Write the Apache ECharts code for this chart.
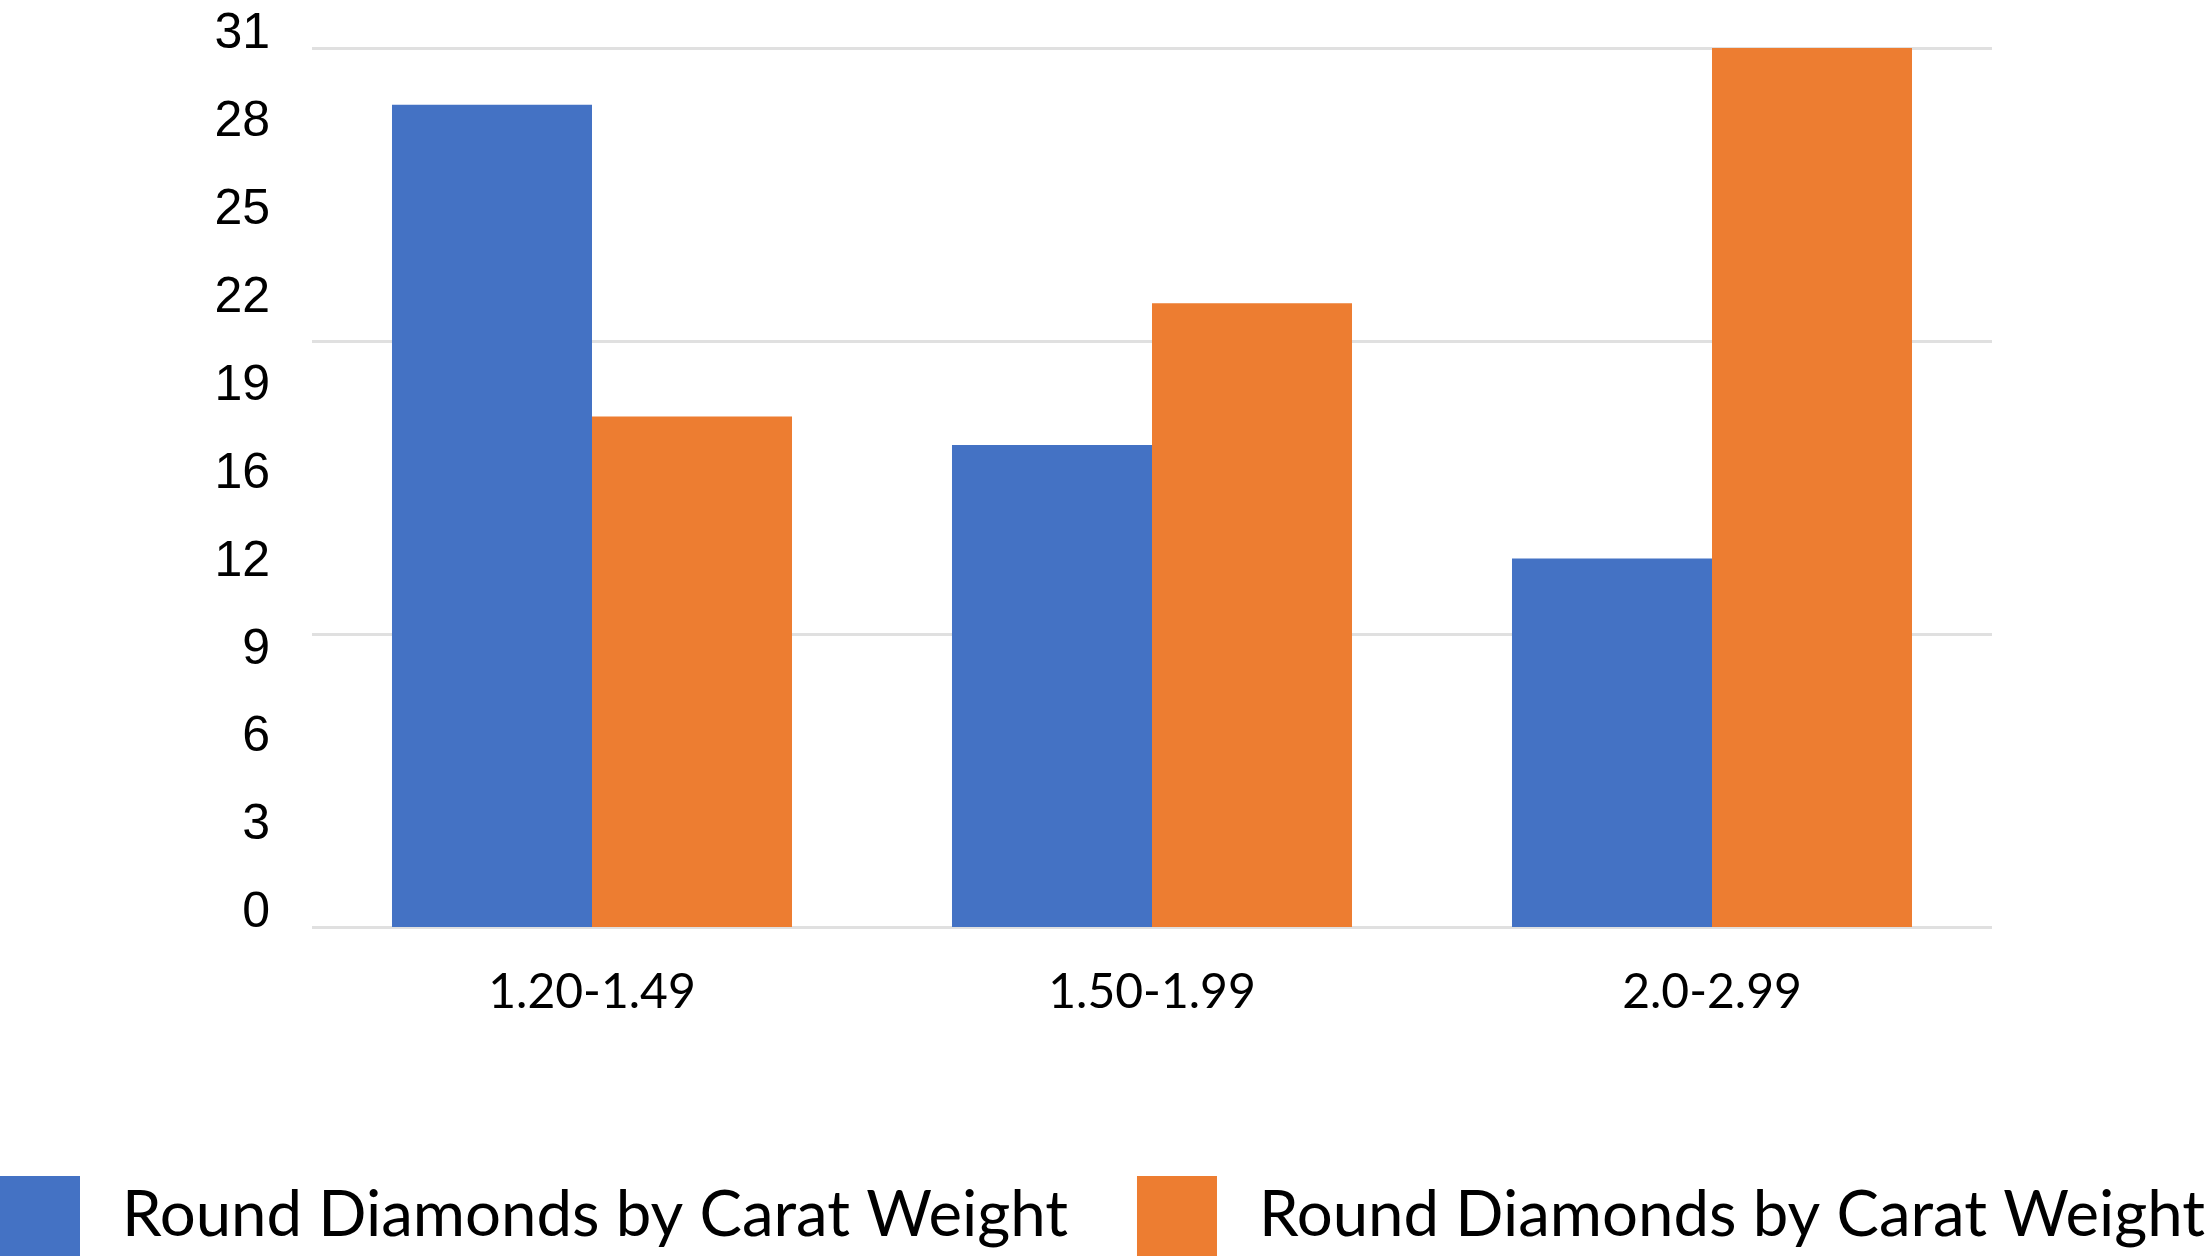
<!DOCTYPE html>
<html>
<head>
<meta charset="utf-8">
<style>
html,body{margin:0;padding:0;background:#fff;}
#chart{width:2208px;height:1256px;}
</style>
<script src="https://cdn.jsdelivr.net/npm/echarts@6/dist/echarts.min.js"></script>
</head>
<body>
<div id="chart"></div>
<script>
const categories = ['1.20-1.49', '1.50-1.99', '2.0-2.99'];
const seriesNames = ['Round Diamonds by Carat Weight', 'Round Diamonds by Carat Weight '];
const blueValues = [29, 17, 13];
const orangeValues = [18, 22, 31];
const yMax = 31;
const labelStep = 3.1;
const gridStep = 31 / 3;

const chart = echarts.init(document.getElementById('chart'), null, {renderer: 'canvas'});
chart.setOption({
  backgroundColor: '#ffffff',
  animation: false,
  grid: {left: 312, right: 216, top: 48, bottom: 329, containLabel: false},
  legend: {
    left: 0, top: 1176, padding: 0, width: 3000, orient: 'horizontal',
    itemWidth: 80, itemHeight: 80, itemGap: 69,
    icon: 'rect',
    data: seriesNames,
    formatter: function (n) { return n.trim(); },
    textStyle: {fontFamily: 'Lato', fontSize: 63.5, color: '#000', padding: [10, 0, 0, 37]}
  },
  xAxis: {
    type: 'category',
    data: categories,
    axisLine: {show: false},
    axisTick: {show: false},
    axisLabel: {fontFamily: 'Lato', fontSize: 48, color: '#000', margin: 42}
  },
  yAxis: [
    {
      type: 'value', min: 0, max: yMax, interval: labelStep,
      axisLine: {show: false}, axisTick: {show: false},
      splitLine: {show: false},
      axisLabel: {
        fontFamily: 'Liberation Sans', fontSize: 50, color: '#000', margin: 42,
        verticalAlign: 'bottom', lineHeight: 27,
        formatter: function (v) { return String(Math.round(v)); }
      }
    },
    {
      type: 'value', min: 0, max: yMax, interval: gridStep, position: 'left',
      axisLine: {show: false}, axisTick: {show: false}, axisLabel: {show: false},
      splitLine: {show: true, lineStyle: {color: '#e0e0e0', width: 3}}
    }
  ],
  series: [
    {name: seriesNames[0], type: 'bar', data: blueValues, yAxisIndex: 0,
     barGap: '0%', barCategoryGap: '28.57%', itemStyle: {color: '#4472C4'}},
    {name: seriesNames[1], type: 'bar', data: orangeValues, yAxisIndex: 0,
     barGap: '0%', barCategoryGap: '28.57%', itemStyle: {color: '#ED7D31'}}
  ]
});
</script>
</body>
</html>
